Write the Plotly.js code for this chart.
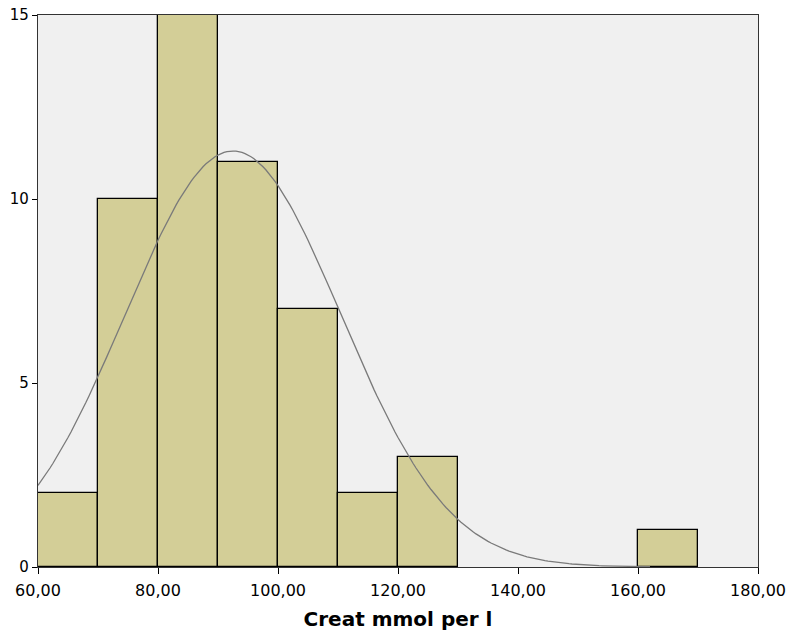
<!DOCTYPE html>
<html>
<head>
<meta charset="utf-8">
<script src="https://cdn.plot.ly/plotly-3.0.1.min.js"></script>
<style>
  html, body { margin: 0; padding: 0; background: #ffffff; }
  #chart { width: 790px; height: 634px; }
</style>
</head>
<body>
<div id="chart"></div>
<script>
// Histogram bins (lower edges) and their counts
const binStarts = [60, 70, 80, 90, 100, 110, 120, 160];
const binCounts = [2, 10, 15, 11, 7, 2, 3, 1];
const binWidth = 10;

// Fitted normal curve parameters
const fitMean = 92.5;
const fitSd = 18.0;
const sampleSize = 51;

const xTickVals = [60, 80, 100, 120, 140, 160, 180];
const xTickText = ['60,00', '80,00', '100,00', '120,00', '140,00', '160,00', '180,00'];
const yTickVals = [0, 5, 10, 15];

const binCenters = binStarts.map(s => s + binWidth / 2);

// Normal density scaled to counts per bin
const curveX = [];
const curveY = [];
for (let x = 60; x <= 162; x += 0.5) {
  const z = (x - fitMean) / fitSd;
  curveX.push(x);
  curveY.push(sampleSize * binWidth * Math.exp(-0.5 * z * z) / (fitSd * Math.sqrt(2 * Math.PI)));
}

const bars = {
  type: 'bar',
  x: binCenters,
  y: binCounts,
  width: binWidth,
  marker: { color: '#d3ce97', line: { color: '#000000', width: 1.3 } },
  hoverinfo: 'x+y'
};

const curve = {
  type: 'scatter',
  mode: 'lines',
  x: curveX,
  y: curveY,
  line: { color: '#7a7a7a', width: 1.3 },
  hoverinfo: 'skip'
};

const layout = {
  width: 790,
  height: 634,
  margin: { l: 38, r: 32, t: 15, b: 67 },
  paper_bgcolor: '#ffffff',
  plot_bgcolor: '#f0f0f0',
  showlegend: false,
  bargap: 0,
  font: { family: 'DejaVu Sans, sans-serif', color: '#000000', size: 16 },
  xaxis: {
    range: [60, 180],
    tickvals: xTickVals,
    ticktext: xTickText,
    ticks: 'outside',
    ticklen: 6,
    ticklabelstandoff: 3,
    tickcolor: '#000000',
    showgrid: false,
    zeroline: false,
    showline: true,
    linecolor: '#333333',
    linewidth: 1.3,
    mirror: true,
    tickfont: { size: 16 },
    title: { text: '<b>Creat mmol per l</b>', font: { size: 20 }, standoff: 12 }
  },
  yaxis: {
    range: [0, 15],
    tickvals: yTickVals,
    ticks: 'outside',
    ticklen: 5,
    tickcolor: '#000000',
    showgrid: false,
    zeroline: false,
    showline: true,
    linecolor: '#333333',
    linewidth: 1.3,
    mirror: true,
    tickfont: { size: 15 }
  }
};

Plotly.newPlot('chart', [bars, curve], layout, { displayModeBar: false });
</script>
</body>
</html>
